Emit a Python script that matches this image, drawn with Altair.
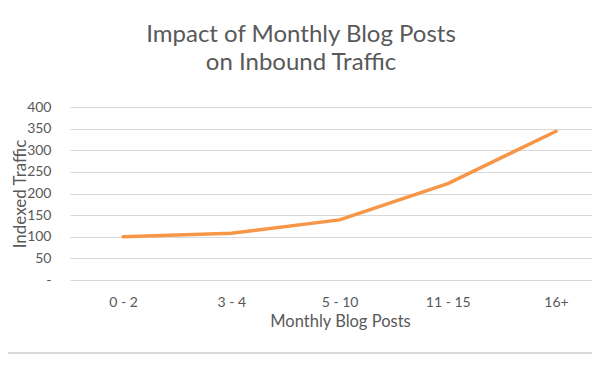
import altair as alt
import pandas as pd

categories = ["0 - 2", "3 - 4", "5 - 10", "11 - 15", "16+"]
traffic = [100, 108, 139, 223, 344]
y_ticks = [0, 50, 100, 150, 200, 250, 300, 350, 400]

df = pd.DataFrame({"posts": categories, "traffic": traffic})

W, H = 522, 173
FONT = "Lato"
TXT = "#595959"

line = alt.Chart(df).mark_line(
    color="#F79646", strokeWidth=3.5, strokeCap="round", strokeJoin="round"
).encode(
    x=alt.X(
        "posts:N",
        sort=categories,
        scale=alt.Scale(type="point", padding=0.411, align=0.596),
        axis=alt.Axis(
            title="Monthly Blog Posts",
            grid=False, domain=False, ticks=False, tickSize=0,
            labelAngle=0, labelFont=FONT, labelFontSize=14, labelColor=TXT,
            labelBaseline="alphabetic", labelPadding=26,
            titleFont=FONT, titleFontSize=16.5, titleColor=TXT, titleFontWeight="normal",
            titleBaseline="alphabetic", titleX=270, titleY=46.5,
        ),
    ),
    y=alt.Y(
        "traffic:Q",
        scale=alt.Scale(domain=[0, 400], nice=False),
        axis=alt.Axis(
            title="Indexed Traffic",
            values=y_ticks,
            labelExpr="datum.value == 0 ? '-\u2007\u2007' : datum.label",
            grid=True, gridColor="#d9d9d9", gridWidth=1,
            domain=False, ticks=False, tickSize=0,
            labelFont=FONT, labelFontSize=14, labelColor=TXT, labelPadding=19,
            titleFont=FONT, titleFontSize=17, titleColor=TXT, titleFontWeight="normal",
            titleBaseline="alphabetic", titleX=-45, titleY=86.5, titleAngle=270,
        ),
    ),
)

border = alt.Chart(df).mark_rule(color="#d9d9d9", strokeWidth=1.5).encode(
    x=alt.value(-70), x2=alt.value(W), y=alt.value(H + 73)
)

chart = alt.layer(border, line).properties(
    width=W,
    height=H,
    autosize=alt.AutoSizeParams(type="none"),
    padding={"left": 62, "top": 99, "right": 0, "bottom": 75},
    title=alt.TitleParams(
        text=["Impact of Monthly Blog Posts", "on Inbound Traffic"],
        font=FONT, fontSize=24, fontWeight="normal", color=TXT,
        anchor="middle", frame="group", dx=-30, offset=25.5, lineHeight=28,
    ),
).configure_view(stroke=None)

chart.save("out.html", embed_options={"renderer": "svg", "actions": False})
